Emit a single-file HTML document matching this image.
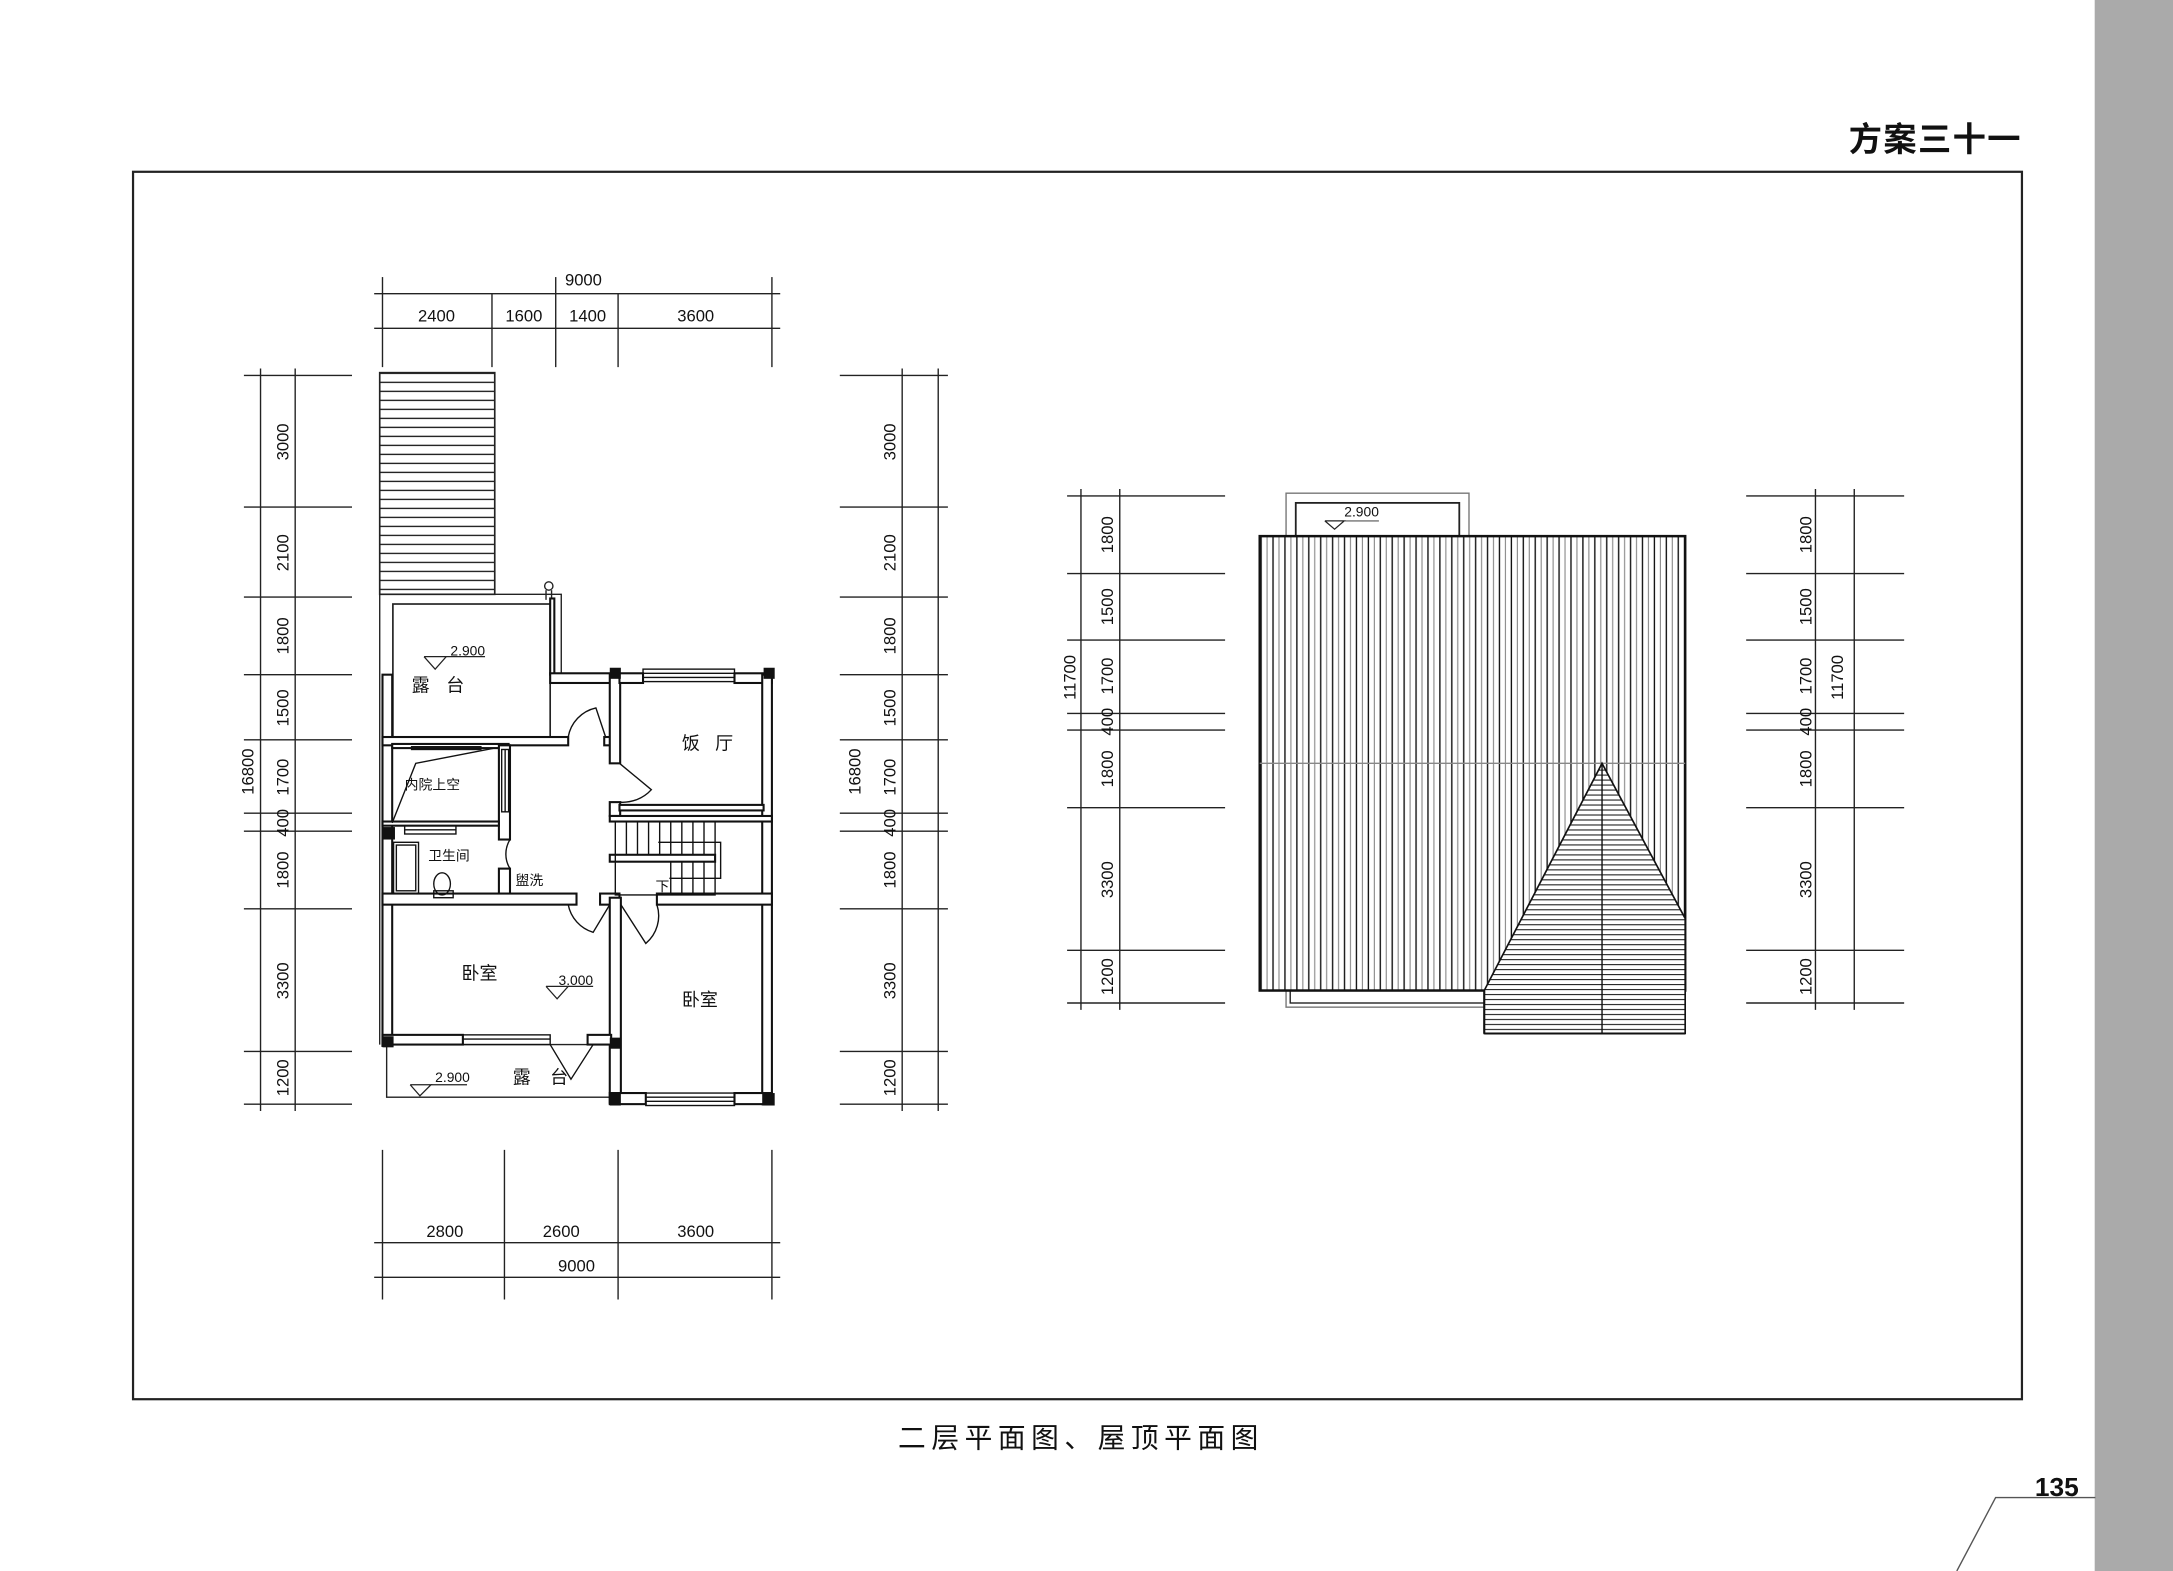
<!DOCTYPE html>
<html><head><meta charset="utf-8"><style>
html,body{margin:0;padding:0;background:#fff}
svg{display:block}
text{font-family:"Liberation Sans","Noto Sans CJK SC",sans-serif;fill:#111}
</style></head><body>
<svg width="2173" height="1571" viewBox="0 0 1568 1134" preserveAspectRatio="none" xmlns="http://www.w3.org/2000/svg">
<defs>
<pattern id="hz" width="10" height="6.5" patternUnits="userSpaceOnUse"><line x1="0" y1="3" x2="10" y2="3" stroke="#222" stroke-width="1"/></pattern>
<pattern id="hz2" width="10" height="3.6" patternUnits="userSpaceOnUse"><line x1="0" y1="1.5" x2="10" y2="1.5" stroke="#222" stroke-width="0.8"/></pattern>
<pattern id="vt" x="909" width="8.6" height="10" patternUnits="userSpaceOnUse"><line x1="1" y1="0" x2="1" y2="10" stroke="#111" stroke-width="1"/><line x1="5.3" y1="0" x2="5.3" y2="10" stroke="#888" stroke-width="0.8"/></pattern>
</defs>
<rect x="0" y="0" width="1568" height="1134" fill="#fff"/>
<rect x="1511.5" y="0" width="56.5" height="1134" fill="#aaaaaa"/>
<text x="1459" y="109" font-size="24" font-weight="bold" text-anchor="end" style="letter-spacing:1px">方案三十一</text>
<rect x="96" y="124" width="1363" height="886" fill="none" stroke="#222" stroke-width="1.6"/>
<text x="780" y="1045" font-size="20" text-anchor="middle" style="letter-spacing:4px">二层平面图、屋顶平面图</text>
<text x="1500" y="1080" font-size="19" font-weight="bold" text-anchor="end">135</text>
<polyline points="1512,1081 1440,1081 1412,1134" fill="none" stroke="#555" stroke-width="1"/>

<!-- ===== floor plan dimensions ===== -->
<g stroke="#222" stroke-width="1" fill="none">
<line x1="270" y1="212" x2="563" y2="212"/><line x1="270" y1="237" x2="563" y2="237"/>
<line x1="276" y1="200" x2="276" y2="265"/><line x1="355" y1="212" x2="355" y2="265"/><line x1="401" y1="200" x2="401" y2="265"/><line x1="446" y1="212" x2="446" y2="265"/><line x1="557" y1="200" x2="557" y2="265"/>
<line x1="188" y1="266" x2="188" y2="802"/><line x1="213" y1="266" x2="213" y2="802"/>
<line x1="651" y1="266" x2="651" y2="802"/><line x1="677" y1="266" x2="677" y2="802"/>
<g id="lt"><line x1="176" y1="271" x2="254" y2="271"/><line x1="176" y1="366" x2="254" y2="366"/><line x1="176" y1="431" x2="254" y2="431"/><line x1="176" y1="487" x2="254" y2="487"/><line x1="176" y1="534" x2="254" y2="534"/><line x1="176" y1="587" x2="254" y2="587"/><line x1="176" y1="600" x2="254" y2="600"/><line x1="176" y1="656" x2="254" y2="656"/><line x1="176" y1="759" x2="254" y2="759"/><line x1="176" y1="797" x2="254" y2="797"/></g>
<use href="#lt" x="430"/>
<line x1="270" y1="897" x2="563" y2="897"/><line x1="270" y1="922" x2="563" y2="922"/>
<line x1="276" y1="830" x2="276" y2="938"/><line x1="364" y1="830" x2="364" y2="938"/><line x1="446" y1="830" x2="446" y2="938"/><line x1="557" y1="830" x2="557" y2="938"/>
</g>
<g font-size="12" text-anchor="middle">
<text x="421" y="206">9000</text>
<text x="315" y="232">2400</text><text x="378" y="232">1600</text><text x="424" y="232">1400</text><text x="502" y="232">3600</text>
<text x="321" y="893">2800</text><text x="405" y="893">2600</text><text x="502" y="893">3600</text><text x="416" y="918">9000</text>
</g>
<g font-size="12" text-anchor="middle" id="lv">
<text transform="translate(208,319) rotate(-90)">3000</text>
<text transform="translate(208,399) rotate(-90)">2100</text>
<text transform="translate(208,459) rotate(-90)">1800</text>
<text transform="translate(208,511) rotate(-90)">1500</text>
<text transform="translate(208,561) rotate(-90)">1700</text>
<text transform="translate(208,594) rotate(-90)">400</text>
<text transform="translate(208,628) rotate(-90)">1800</text>
<text transform="translate(208,708) rotate(-90)">3300</text>
<text transform="translate(208,778) rotate(-90)">1200</text>
<text transform="translate(183,557) rotate(-90)">16800</text>
</g>
<use href="#lv" x="438"/>

<!-- ===== floor plan ===== -->
<rect x="274" y="269" width="83" height="160" fill="url(#hz)" stroke="#222" stroke-width="1.2"/>
<g fill="none" stroke="#222" stroke-width="1">
<polyline points="274,429 274,754"/>
<polyline points="274,429 405,429 405,490"/>
<rect x="283.5" y="436" width="113.5" height="96" stroke-width="1.2"/>
<circle cx="396" cy="423" r="3"/><line x1="394" y1="426" x2="394" y2="433"/><line x1="398" y1="426" x2="398" y2="433"/>
<rect x="279" y="754" width="162" height="38"/>
</g>
<g fill="#fff" stroke="#111" stroke-width="1.5">
<rect x="276" y="487" width="7" height="268"/>
<rect x="397" y="432" width="3" height="55"/>
<rect x="397" y="486" width="50" height="7"/>
<rect x="276" y="532" width="134" height="6"/>
<rect x="436" y="532" width="6" height="6"/>
<rect x="440" y="487" width="7.5" height="64"/>
<rect x="440" y="579" width="7.5" height="10"/>
<rect x="447" y="486" width="17" height="7"/><rect x="530" y="486" width="27" height="7"/>
<rect x="550" y="487" width="7" height="310"/>
<rect x="447" y="581" width="104" height="4"/>
<rect x="440" y="589" width="117" height="4"/>
<rect x="440" y="617" width="76" height="5"/>
<rect x="283" y="537" width="84" height="3"/>
<rect x="360" y="538" width="8" height="68"/>
<rect x="360" y="627" width="8" height="22"/>
<rect x="276" y="593" width="84" height="3"/>
<rect x="276" y="645" width="140" height="8"/>
<rect x="433" y="645" width="14" height="8"/>
<rect x="474" y="645" width="83" height="8"/>
<rect x="440" y="648" width="8" height="148"/>
<rect x="276" y="747" width="58" height="7"/>
<rect x="424" y="747" width="17" height="7"/>
<rect x="440" y="789" width="26" height="8"/><rect x="530" y="789" width="27" height="8"/>
</g>
<g fill="#111">
<rect x="551" y="482" width="8" height="8"/><rect x="440" y="482" width="8" height="8"/>
<rect x="276" y="597" width="9" height="9"/>
<rect x="276" y="748" width="8" height="8"/><rect x="440" y="749" width="8" height="8"/>
<rect x="550" y="789" width="9" height="9"/><rect x="440" y="789" width="8" height="9"/>
</g>
<g fill="none" stroke="#111" stroke-width="1">
<rect x="464" y="483" width="66" height="9"/><line x1="464" y1="486" x2="530" y2="486"/><line x1="464" y1="489" x2="530" y2="489"/>
<rect x="466" y="789" width="64" height="9"/><line x1="466" y1="792" x2="530" y2="792"/><line x1="466" y1="795" x2="530" y2="795"/>
<rect x="334" y="747" width="63" height="7"/><line x1="334" y1="750" x2="397" y2="750"/>
<rect x="362" y="541" width="5" height="45"/><line x1="364.5" y1="541" x2="364.5" y2="586"/>
<rect x="292" y="596" width="37" height="6"/><line x1="292" y1="599" x2="329" y2="599"/>
<rect x="297" y="539" width="50" height="2"/>
<polyline points="357,540 300,551 283,594"/>
<rect x="444" y="593" width="72" height="53"/>
<line x1="452" y1="593" x2="452" y2="617"/><line x1="460" y1="593" x2="460" y2="617"/><line x1="468" y1="593" x2="468" y2="617"/><line x1="476" y1="593" x2="476" y2="617"/><line x1="484" y1="593" x2="484" y2="617"/><line x1="492" y1="593" x2="492" y2="617"/><line x1="500" y1="593" x2="500" y2="617"/><line x1="508" y1="593" x2="508" y2="617"/>
<line x1="484" y1="622" x2="484" y2="646"/><line x1="492" y1="622" x2="492" y2="646"/><line x1="500" y1="622" x2="500" y2="646"/><line x1="508" y1="622" x2="508" y2="646"/>
<polyline points="475,608 520,608 520,634 483,634"/>
<rect x="284" y="608" width="18" height="37"/><rect x="286" y="610" width="14" height="33"/>
<ellipse cx="319" cy="638" rx="6" ry="8"/><rect x="313" y="643" width="14" height="5"/>
<path d="M410,532 A26,26 0 0 1 430,511 L437,532"/>
<path d="M447,551 L470,570 A28,28 0 0 1 447,579"/>
<path d="M368,606 A20,20 0 0 0 368,627"/>
<path d="M410,653 A26,26 0 0 0 428,673 L440,653"/>
<path d="M448,653 L466,681 A26,26 0 0 0 474,653"/>
<path d="M397,754 L412,779 L428,754"/>
</g>
<g font-size="13">
<text x="297" y="499">露</text><text x="322" y="499">台</text>
<text x="492" y="541">饭</text><text x="516" y="541">厅</text>
<text x="333" y="707">卧室</text><text x="492" y="726">卧室</text>
<text x="370" y="782">露</text><text x="397" y="782">台</text>
</g>
<g font-size="10">
<text x="292" y="570">内院上空</text>
<text x="309" y="621">卫生间</text>
<text x="372" y="639">盥洗</text>
<text x="473" y="643">下</text>
<text x="325" y="473">2.900</text>
<text x="403" y="711">3.000</text>
<text x="314" y="781">2.900</text>
</g>
<g fill="none" stroke="#222" stroke-width="0.9">
<polyline points="306,474 322,474 314,483 306,474"/><line x1="322" y1="474" x2="350" y2="474"/>
<polyline points="394,712 410,712 402,721 394,712"/><line x1="410" y1="712" x2="428" y2="712"/>
<polyline points="296,783 311,783 303,791 296,783"/><line x1="311" y1="783" x2="337" y2="783"/>
</g>

<!-- ===== roof dimensions ===== -->
<g stroke="#222" stroke-width="1" fill="none">
<line x1="780" y1="353" x2="780" y2="729"/><line x1="808" y1="353" x2="808" y2="729"/>
<line x1="1310" y1="353" x2="1310" y2="729"/><line x1="1338" y1="353" x2="1338" y2="729"/>
<g id="rt"><line x1="770" y1="358" x2="884" y2="358"/><line x1="770" y1="414" x2="884" y2="414"/><line x1="770" y1="462" x2="884" y2="462"/><line x1="770" y1="515" x2="884" y2="515"/><line x1="770" y1="527" x2="884" y2="527"/><line x1="770" y1="583" x2="884" y2="583"/><line x1="770" y1="686" x2="884" y2="686"/><line x1="770" y1="724" x2="884" y2="724"/></g>
<use href="#rt" x="490"/>
</g>
<g font-size="12" text-anchor="middle" id="rv">
<text transform="translate(803,386) rotate(-90)">1800</text>
<text transform="translate(803,438) rotate(-90)">1500</text>
<text transform="translate(803,488) rotate(-90)">1700</text>
<text transform="translate(803,521) rotate(-90)">400</text>
<text transform="translate(803,555) rotate(-90)">1800</text>
<text transform="translate(803,635) rotate(-90)">3300</text>
<text transform="translate(803,705) rotate(-90)">1200</text>
</g>
<use href="#rv" x="504"/>
<text transform="translate(776,489) rotate(-90)" font-size="12" text-anchor="middle">11700</text>
<text transform="translate(1330,489) rotate(-90)" font-size="12" text-anchor="middle">11700</text>

<!-- ===== roof ===== -->
<rect x="928" y="356" width="132" height="40" fill="none" stroke="#777" stroke-width="1"/>
<rect x="935" y="363" width="118" height="30" fill="#fff" stroke="#222" stroke-width="1.3"/>
<text x="970" y="373" font-size="10">2.900</text>
<polyline points="956,376 970,376 963,382 956,376" fill="none" stroke="#222" stroke-width="0.9"/><line x1="970" y1="376" x2="995" y2="376" stroke="#555" stroke-width="0.8"/>
<rect x="928" y="700" width="146" height="27" fill="none" stroke="#777" stroke-width="1"/>
<rect x="931" y="700" width="143" height="24" fill="none" stroke="#222" stroke-width="1"/>
<rect x="909" y="387" width="307" height="328" fill="#fff"/>
<rect x="909" y="387" width="307" height="328" fill="url(#vt)" stroke="#111" stroke-width="1.8"/>
<line x1="909" y1="551" x2="1216" y2="551" stroke="#888" stroke-width="1"/>
<polygon points="1156,551 1216,663 1216,746 1071,746 1071,715" fill="#fff"/>
<polygon points="1156,551 1216,663 1216,746 1071,746 1071,715" fill="url(#hz2)" stroke="#111" stroke-width="1.2"/>
<line x1="1071" y1="715" x2="1071" y2="746" stroke="#111" stroke-width="1.5"/>
<line x1="1071" y1="746" x2="1216" y2="746" stroke="#111" stroke-width="1.5"/>
<line x1="1156" y1="551" x2="1156" y2="746" stroke="#111" stroke-width="1"/>
</svg>
</body></html>
